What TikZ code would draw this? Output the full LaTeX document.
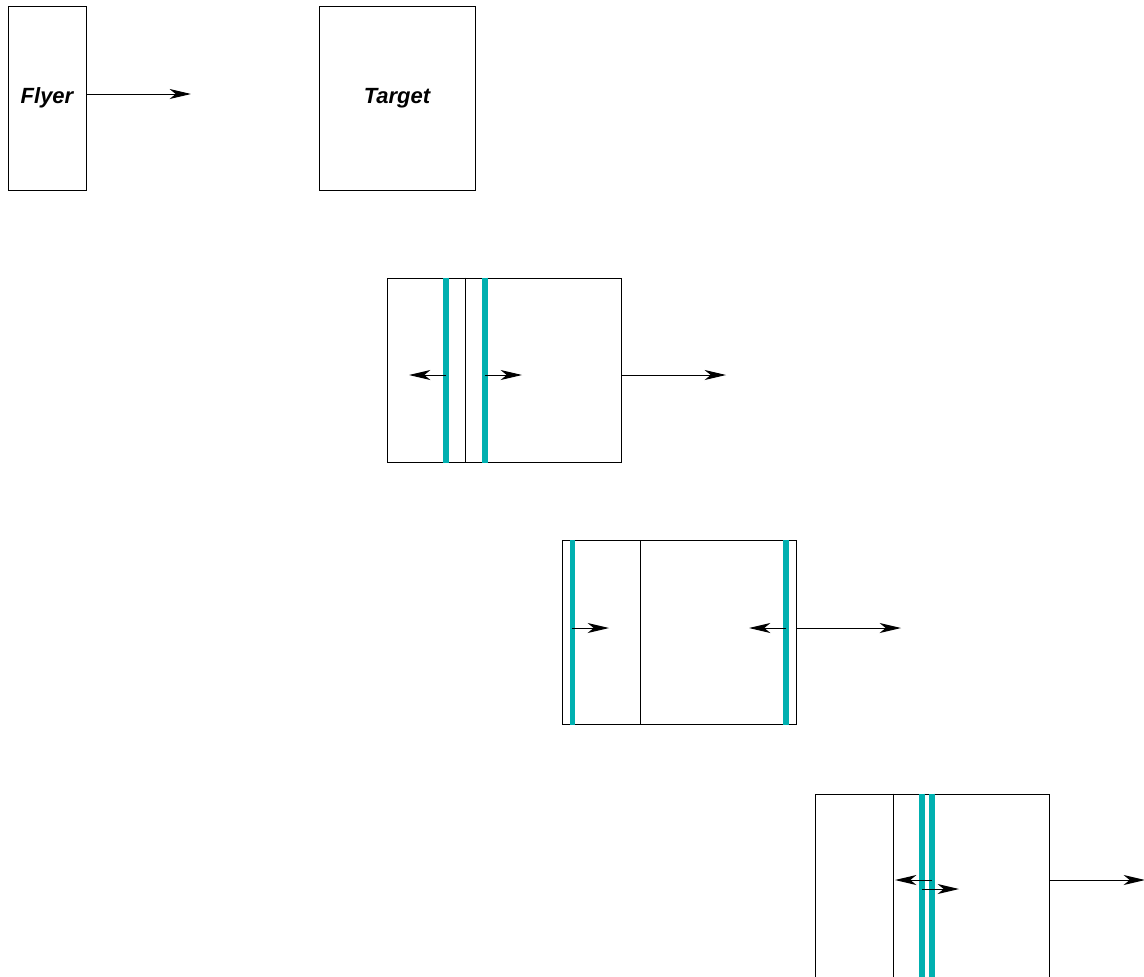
\documentclass[tikz,border=0pt]{standalone}
\usepackage{fontspec}
\setsansfont{Liberation Sans}
\usetikzlibrary{arrows.meta}
\definecolor{shock}{RGB}{0,176,176}
\begin{document}
\begin{tikzpicture}[x=0.75pt,y=-0.75pt,
  slab/.style={draw=black, line width=0.75pt, minimum height=138pt, inner sep=0pt,
    font=\sffamily\bfseries\itshape\fontsize{16.5}{20}\selectfont},
  vel/.style={-{Stealth[length=16pt,width=7.5pt,inset=4.5pt]}, line width=0.75pt},
  front/.style={draw=shock, line width=4pt},
  iface/.style={line width=0.75pt}]
\useasboundingbox (0,0) rectangle (1144,976);
\clip (0,0) rectangle (1144,976);

% stage 1: flyer approaching target
\node[slab, minimum width=58.5pt] (flyer) at (47,98) {Flyer};
\node[slab, minimum width=117pt] (target) at (397,98) {Target};
\coordinate (t1o) at (191,94);
\draw[vel] (flyer.east |- t1o) -- (t1o);

% stage 2: impact, two shocks leaving the interface
\node[slab, minimum width=175.5pt] (b2) at (504,370) {};
\coordinate (i2) at (465,375);
\coordinate (s2a) at (446,375);
\coordinate (s2b) at (485,375);
\coordinate (t2a) at (409,375);
\coordinate (t2b) at (522,375);
\coordinate (t2o) at (726,375);
\draw[iface] (b2.north -| i2) -- (b2.south -| i2);
\draw[front] (b2.north -| s2a) -- (b2.south -| s2a);
\draw[front] (b2.north -| s2b) -- (b2.south -| s2b);
\draw[vel] (s2a) -- (t2a);
\draw[vel] (s2b) -- (t2b);
\draw[vel] (b2.east |- t2o) -- (t2o);

% stage 3: reflected waves at the free surfaces
\node[slab, minimum width=175.5pt] (b3) at (679,632.5) {};
\coordinate (i3) at (640,628);
\coordinate (s3a) at (572.3,628);
\coordinate (s3b) at (786,628);
\coordinate (t3a) at (609,628);
\coordinate (t3b) at (749,628);
\coordinate (t3o) at (901,628);
\draw[iface] (b3.north -| i3) -- (b3.south -| i3);
\draw[front] (b3.north -| s3a) -- (b3.south -| s3a);
\draw[front] (b3.north -| s3b) -- (b3.south -| s3b);
\draw[vel] (s3a) -- (t3a);
\draw[vel] (s3b) -- (t3b);
\draw[vel] (b3.east |- t3o) -- (t3o);

% stage 4: rarefactions crossing inside the target
\node[slab, minimum width=175.5pt] (b4) at (932,886) {};
\coordinate (i4) at (893,880);
\coordinate (s4a) at (922,889);
\coordinate (s4b) at (932,880);
\coordinate (t4a) at (959,889);
\coordinate (t4b) at (895,880);
\coordinate (t4o) at (1145,880);
\draw[iface] (b4.north -| i4) -- (b4.south -| i4);
\draw[front] (b4.north -| s4a) -- (b4.south -| s4a);
\draw[front] (b4.north -| s4b) -- (b4.south -| s4b);
\draw[vel] (s4a) -- (t4a);
\draw[vel] (s4b) -- (t4b);
\draw[vel] (b4.east |- t4o) -- (t4o);
\end{tikzpicture}
\end{document}
